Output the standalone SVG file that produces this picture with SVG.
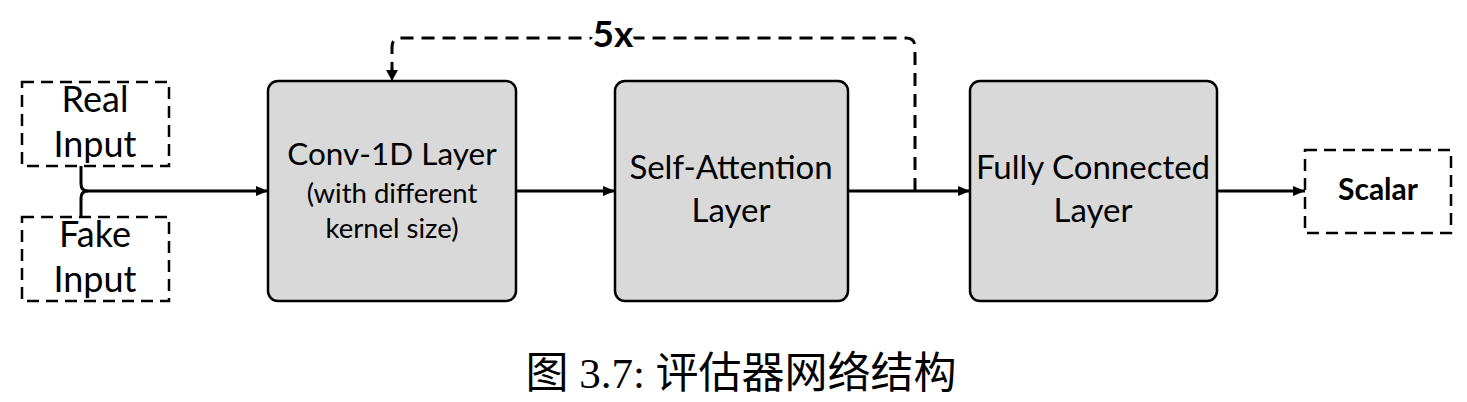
<svg xmlns="http://www.w3.org/2000/svg" width="1467" height="402" viewBox="0 0 1467 402">
<defs>
<style>
.layer{fill:#d9d9d9;stroke:#000;stroke-width:2.5}
.io{fill:#fff;stroke:#000;stroke-width:2.5;stroke-dasharray:12 7}
.t{font-family:Lato,"Liberation Sans",sans-serif;font-size:33px;fill:#000;text-anchor:middle}
.in{font-size:36px}
.c{font-size:31.5px}
.s{font-size:27.5px}
.b{font-weight:bold}
.edge{fill:none;stroke:#000;stroke-width:3}
.dash{fill:none;stroke:#000;stroke-width:3;stroke-dasharray:13 8}
</style>
<marker id="ah" markerWidth="12" markerHeight="10" refX="12" refY="5" orient="auto" markerUnits="userSpaceOnUse">
<path d="M0,0 L12,5 L0,10 Z" fill="#000"/>
</marker>
</defs>
<rect width="1467" height="402" fill="#fff"/>
<g id="connectors">
<path class="edge" d="M81,166 V184 Q81,191 88,191 H268" marker-end="url(#ah)"/>
<path class="edge" d="M81,217 V198 Q81,191 88,191"/>
<path class="edge" d="M516,191 H615" marker-end="url(#ah)"/>
<path class="edge" d="M848,191 H970" marker-end="url(#ah)"/>
<path class="edge" d="M1217,191 H1305" marker-end="url(#ah)"/>
<path class="dash" d="M915,191 V47 Q915,38 906,38 H401 Q392,38 392,47 V70"/>
<path d="M386,70 L398,70 L392,81 Z" fill="#000"/>
<text class="t b" x="613" y="47" style="font-size:37px" stroke="#fff" stroke-width="10" paint-order="stroke">5x</text>
</g>
<g id="real-input">
<rect class="io" x="22" y="82" width="147" height="84"/>
<text class="t in" x="95" y="112">Real</text>
<text class="t in" x="95" y="157">Input</text>
</g>
<g id="fake-input">
<rect class="io" x="22" y="217" width="147" height="84"/>
<text class="t in" x="95" y="247">Fake</text>
<text class="t in" x="95" y="292">Input</text>
</g>
<g id="conv">
<rect class="layer" x="268" y="81" width="248" height="220" rx="10"/>
<text class="t c" x="392" y="165">Conv-1D Layer</text>
<text class="t s" x="392" y="203">(with different</text>
<text class="t s" x="392" y="238">kernel size)</text>
</g>
<g id="attention">
<rect class="layer" x="615" y="81" width="233" height="220" rx="10"/>
<text class="t" x="731" y="179">Self-Attention</text>
<text class="t" x="731" y="222">Layer</text>
</g>
<g id="fc">
<rect class="layer" x="970" y="81" width="247" height="220" rx="10"/>
<text class="t" x="1093" y="179">Fully Connected</text>
<text class="t" x="1093" y="222">Layer</text>
</g>
<g id="scalar">
<rect class="io" x="1305" y="150" width="146" height="83"/>
<text class="t b" x="1378" y="200" style="font-size:30px">Scalar</text>
</g>
<text x="741" y="388" font-family="'Liberation Serif','Noto Sans CJK SC',serif" font-size="43" text-anchor="middle">图 3.7: 评估器网络结构</text>
</svg>
